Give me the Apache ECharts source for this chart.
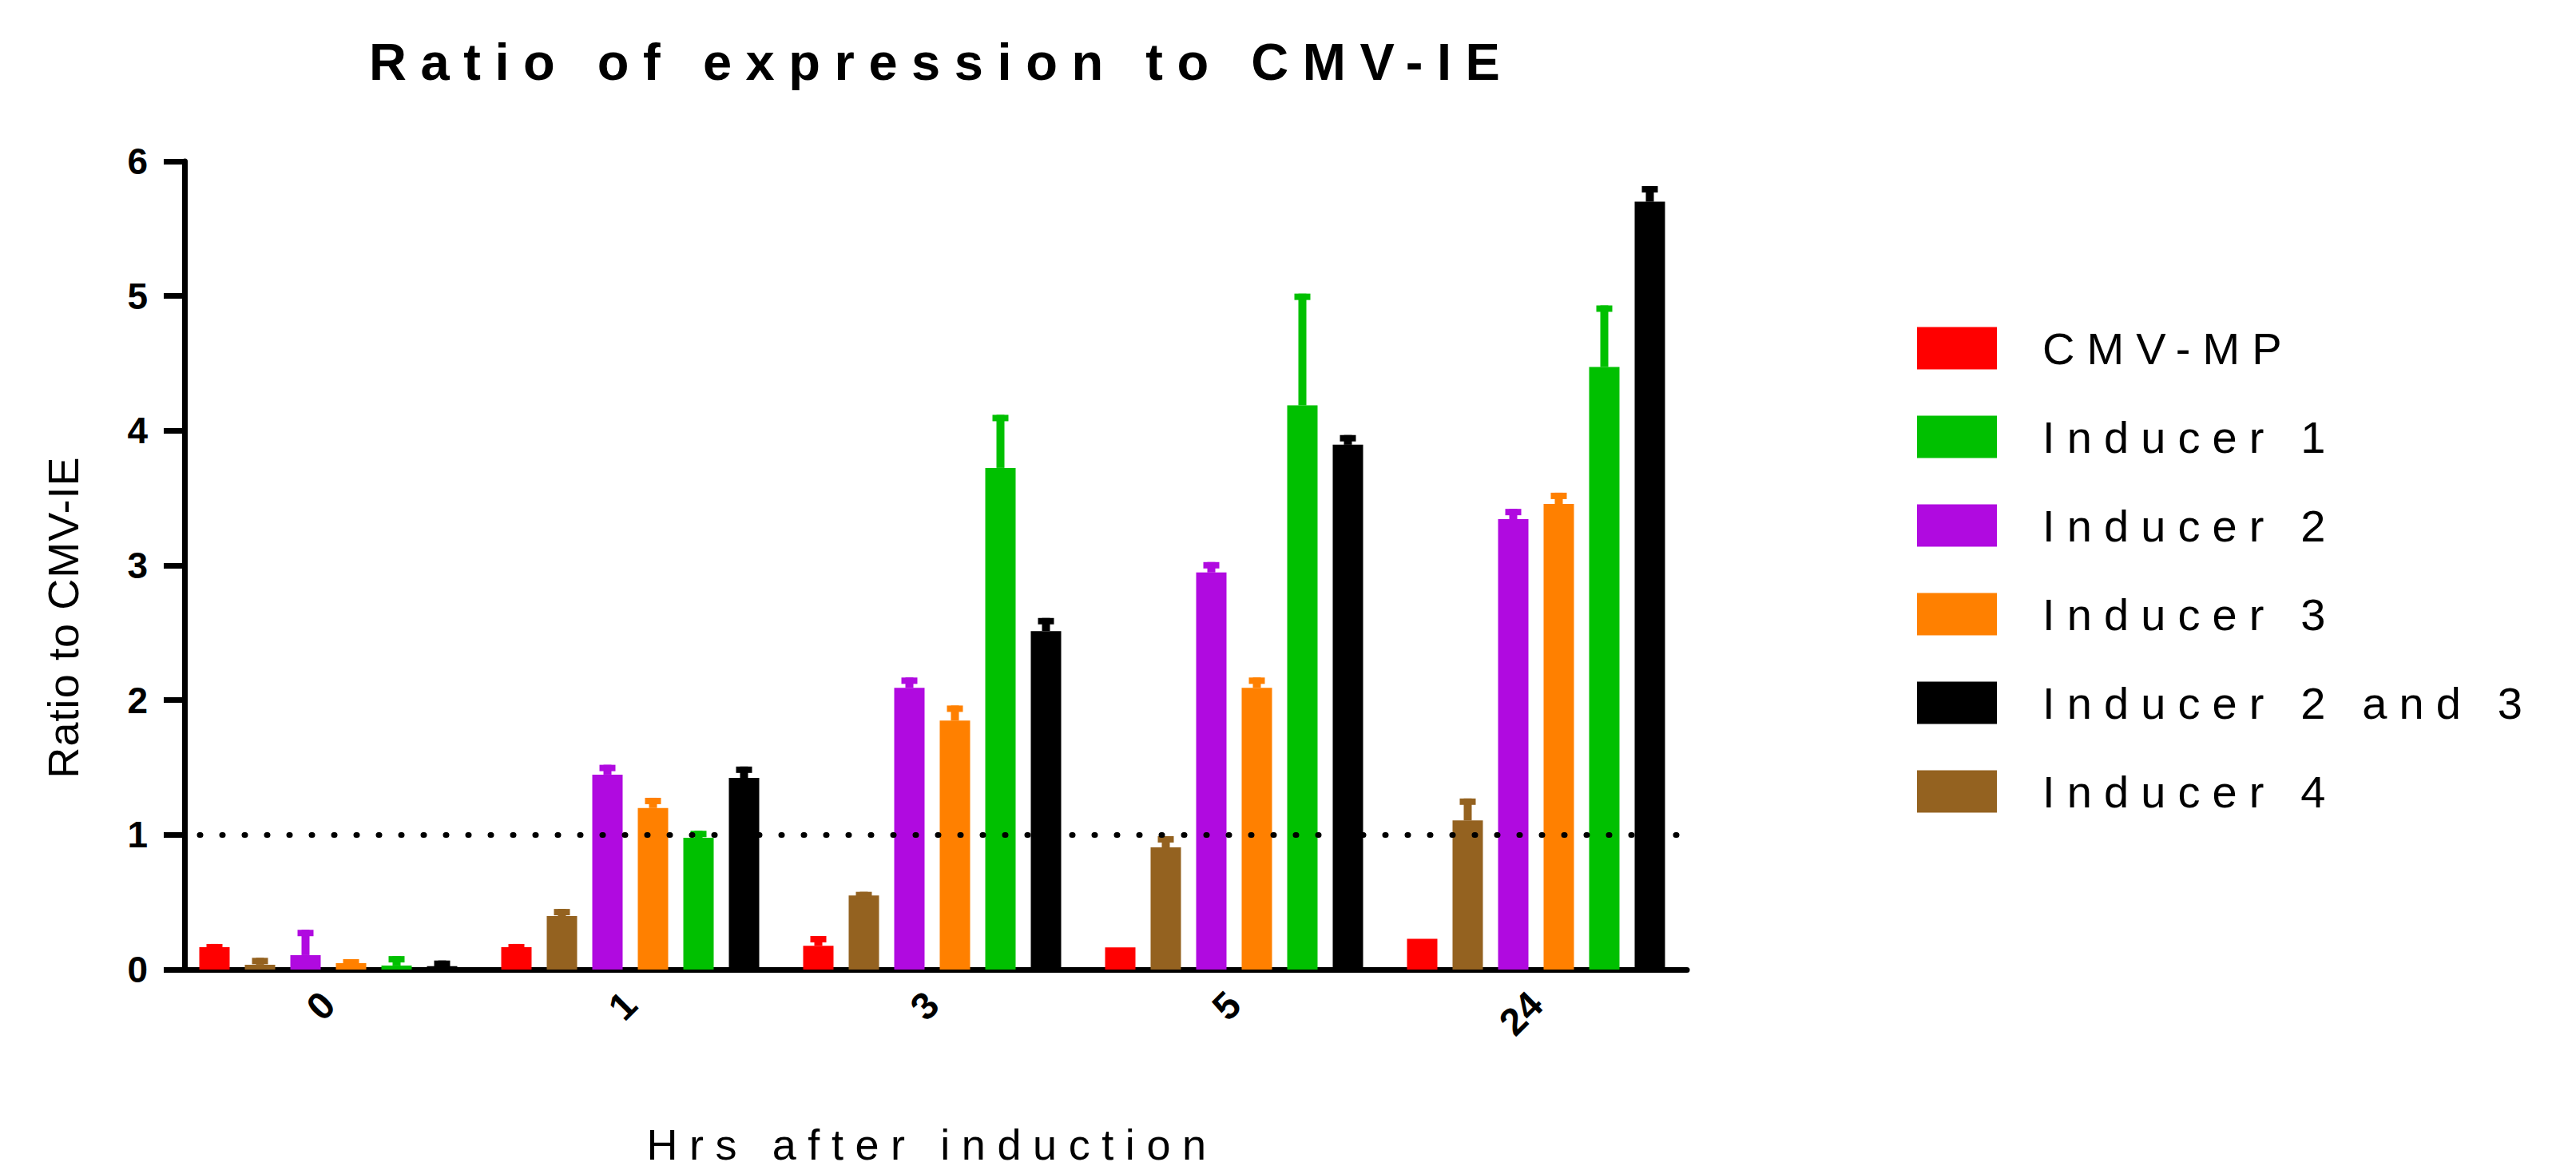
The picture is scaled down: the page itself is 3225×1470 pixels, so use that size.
<!DOCTYPE html>
<html>
<head>
<meta charset="utf-8">
<script src="https://cdn.jsdelivr.net/npm/echarts@6/dist/echarts.min.js"></script>
<style>
  html, body { margin: 0; padding: 0; background: #fff; }
  #chart { width: 3225px; height: 1470px; }
</style>
</head>
<body>
<div id="chart"></div>
<script>
// hours after induction
const categories = ['0', '1', '3', '5', '24'];
// bar order inside each group
const seriesNames = ['CMV-MP', 'Inducer 4', 'Inducer 2', 'Inducer 3', 'Inducer 1', 'Inducer 2 and 3'];
const legendOrder = ['CMV-MP', 'Inducer 1', 'Inducer 2', 'Inducer 3', 'Inducer 2 and 3', 'Inducer 4'];
const yTicks = [0, 1, 2, 3, 4, 5, 6];

// mean ratio to CMV-IE
const cmvMp = [0.166, 0.166, 0.177, 0.165, 0.229];
const inducer4 = [0.036, 0.397, 0.55, 0.907, 1.107];
const inducer2 = [0.107, 1.447, 2.092, 2.948, 3.344];
const inducer3 = [0.047, 1.199, 1.848, 2.092, 3.456];
const inducer1 = [0.03, 0.978, 3.724, 4.188, 4.473];
const inducer23 = [0.025, 1.423, 2.513, 3.896, 5.70];
// upper error (SD)
const cmvMpErr = [0.024, 0.024, 0.072, 0, 0];
const inducer4Err = [0.051, 0.053, 0.027, 0.083, 0.163];
const inducer2Err = [0.188, 0.073, 0.076, 0.077, 0.076];
const inducer3Err = [0.03, 0.076, 0.112, 0.076, 0.084];
const inducer1Err = [0.07, 0.052, 0.394, 0.83, 0.457];
const inducer23Err = [0.042, 0.084, 0.097, 0.072, 0.116];

const means = [cmvMp, inducer4, inducer2, inducer3, inducer1, inducer23];
const errors = [cmvMpErr, inducer4Err, inducer2Err, inducer3Err, inducer1Err, inducer23Err];
const colors = ['#ff0000', '#946220', '#b00ae0', '#ff8000', '#00c000', '#000000'];

const FONT = 'Liberation Sans, Arial, sans-serif';
const BAR_W = 38;
const BAR_GAP = 19;

const chartDom = document.getElementById('chart');
const chart = echarts.init(chartDom, null, { renderer: 'svg' });

function errorSeries(idx) {
    return {
        type: 'custom',
        z: 4,
        silent: true,
        data: means[idx].map((m, i) => [i, m, errors[idx][i]]),
        renderItem: function (params, api) {
            const err = api.value(2);
            if (!err) return;
            const base = api.coord([api.value(0), api.value(1)]);
            const top = api.coord([api.value(0), api.value(1) + err]);
            const x = base[0] + (idx - 2.5) * (BAR_W + BAR_GAP);
            return {
                type: 'group',
                children: [
                    { type: 'rect', shape: { x: x - 5, y: top[1], width: 10, height: base[1] - top[1] }, style: { fill: colors[idx] } },
                    { type: 'rect', shape: { x: x - 10, y: top[1], width: 20, height: 8 }, style: { fill: colors[idx] } }
                ]
            };
        }
    };
}

const barSeries = seriesNames.map((name, i) => ({
    name: name,
    type: 'bar',
    z: 3,
    barWidth: BAR_W,
    barGap: (BAR_GAP / BAR_W * 100) + '%',
    itemStyle: { color: colors[i] },
    data: means[i]
}));

let option = {
    animation: false,
    backgroundColor: '#fff',
    title: {
        text: 'Ratio of expression to CMV-IE',
        left: 457,
        top: 40,
        textStyle: { fontFamily: FONT, fontSize: 65, fontWeight: 'bold', color: '#000' }
    },
    legend: {
        data: legendOrder,
        orient: 'vertical',
        left: 2395,
        top: 403,
        icon: 'rect',
        itemWidth: 100,
        itemHeight: 53,
        itemGap: 55,
        textStyle: { fontFamily: FONT, fontSize: 56, color: '#000', padding: [0, 0, 0, 52] }
    },
    grid: { left: 222, right: 1113, top: 202, bottom: 256 },
    xAxis: {
        type: 'category',
        data: categories,
        name: 'Hrs after induction',
        nameLocation: 'middle',
        nameGap: 192,
        nameTextStyle: { fontFamily: FONT, fontSize: 54, color: '#000' },
        axisLine: { lineStyle: { color: '#000', width: 7 } },
        axisTick: { alignWithLabel: true, length: 22, lineStyle: { color: '#000', width: 8 } },
        axisLabel: { rotate: 45, margin: 36, fontFamily: FONT, fontSize: 48, fontWeight: 'bold', color: '#000' }
    },
    yAxis: {
        type: 'value',
        min: 0,
        max: 6,
        interval: 1,
        offset: -9,
        name: 'Ratio to CMV-IE',
        nameLocation: 'middle',
        nameGap: 125,
        nameTextStyle: { fontFamily: FONT, fontSize: 54, color: '#000', padding: [0, 130, 0, 0] },
        axisLine: { show: true, lineStyle: { color: '#000', width: 7 } },
        axisTick: { show: true, length: 26, lineStyle: { color: '#000', width: 7 } },
        axisLabel: {
            margin: 46,
            fontFamily: FONT,
            fontSize: 46,
            fontWeight: 'bold',
            color: '#000',
            formatter: v => yTicks.includes(v) ? String(v) : ''
        },
        splitLine: { show: false }
    },
    series: [
        {
            type: 'line',
            z: 1,
            data: [],
            markLine: {
                silent: true,
                symbol: 'none',
                label: { show: false },
                lineStyle: { color: '#000', width: 7, type: [1, 27], cap: 'round' },
                data: [{ yAxis: 1 }]
            }
        },
        ...barSeries,
        ...seriesNames.map((n, i) => errorSeries(i))
    ]
};

// Prism-style spaced lettering on the longer texts
const spacing = { 'Ratio to CMV-IE': '0.02em' };
function spaceText() {
    chartDom.querySelectorAll('text').forEach(t => {
        const s = t.textContent;
        if (s.length > 2) t.style.letterSpacing = spacing[s] || '0.27em';
    });
}
chart.on('finished', spaceText);
chart.setOption(option);
spaceText();
</script>
</body>
</html>
